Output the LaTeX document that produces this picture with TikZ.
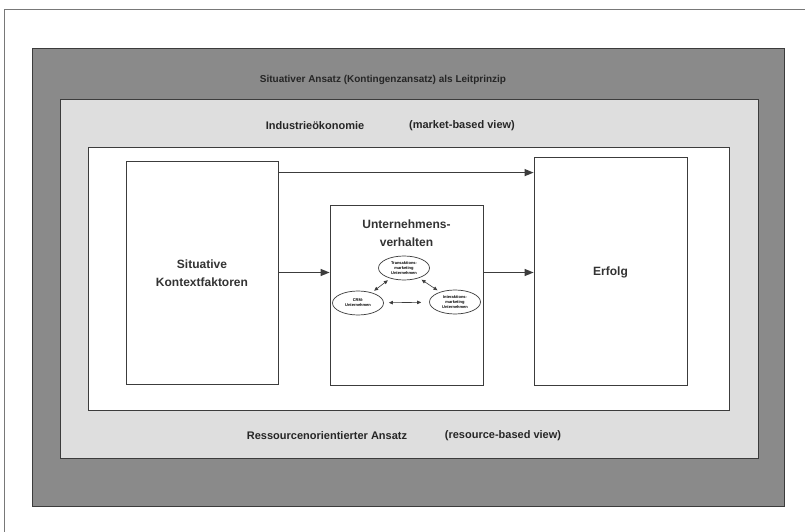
\documentclass[tikz,border=0pt]{standalone}
\usepackage{fontspec}
\setmainfont{Liberation Sans}
\usepackage{xcolor}
\usepackage{tikz}
\usetikzlibrary{calc,arrows.meta,shapes.geometric,positioning}
\definecolor{band}{RGB}{138, 138, 138}
\definecolor{field}{RGB}{222, 222, 222}
\definecolor{rule}{RGB}{60, 60, 60}
\definecolor{pageline}{RGB}{120, 120, 120}

\begin{document}
\begin{tikzpicture}[x=1pt, y=-1pt, >={Triangle[length=9pt,width=7pt]},
  box/.style={draw=rule, fill=white, line width=0.8pt, inner sep=0pt},
  lbl/.style={font=\bfseries\fontsize{11}{13}\selectfont, text=black!85},
  big/.style={font=\bfseries\fontsize{12}{18}\selectfont, text=black!80, align=center},
  firm/.style={ellipse, draw=rule, line width=0.7pt, fill=white, minimum width=51pt, minimum height=24pt, inner sep=0pt, align=center, font=\bfseries\fontsize{4}{4.8}\selectfont},
  flow/.style={->, draw=rule, line width=1.2pt},
  link/.style={{Triangle[length=4pt,width=3.5pt]}-{Triangle[length=4pt,width=3.5pt]}, draw=rule, line width=0.6pt, shorten >=3pt, shorten <=3pt}]
  \useasboundingbox (0,0) rectangle (805,532);

  % page frame
  \draw[pageline, line width=0.8pt] (4.5,532) -- (4.5,9) -- (805,9);

  % outer band: situative approach
  \draw[draw=rule, fill=band, line width=0.8pt] (32,48) rectangle (784,506);
  \node[lbl, font=\bfseries\fontsize{10}{12}\selectfont] (leit) at (383,80) {Situativer Ansatz (Kontingenzansatz) als Leitprinzip};

  % middle band: market- and resource-based view
  \draw[draw=rule, fill=field, line width=0.8pt] (60,99) rectangle (758,458);
  \node[lbl] (io) at (315,126) {Industrieökonomie};
  \node[lbl] (mbv) at (462,126) {(market-based view)};
  \node[lbl] (rba) at (327,436) {Ressourcenorientierter Ansatz};
  \node[lbl] (rbv) at (503,436) {(resource-based view)};

  % inner field
  \draw[draw=rule, fill=white, line width=0.8pt] (88,147) rectangle (729,410);

  % the three boxes
  \node[box, minimum width=152pt, minimum height=223pt] (kontext) at (202,272.5) {};
  \node[big] (kontextlbl) at (202,273) {Situative\\Kontextfaktoren};
  \node[box, minimum width=153pt, minimum height=180pt] (verhalten) at (406.5,295) {};
  \node[big, below=12pt of verhalten.north] (verhaltenlbl) {Unternehmens-\\verhalten};
  \node[box, minimum width=153pt, minimum height=228pt] (erfolg) at (610.5,271) {};
  \node[big] (erfolglbl) at (610.5,272) {Erfolg};

  % firm types inside the behaviour box
  \node[firm] (tm) at (404,268) {Transaktions-\\marketing\\Unternehmen};
  \node[firm] (crm) at (358,303) {CRM-\\Unternehmen};
  \node[firm] (im) at (455,302) {Interaktions-\\marketing\\Unternehmen};
  \draw[link] (crm) -- (tm);
  \draw[link] (tm) -- (im);
  \draw[link, shorten >=8pt, shorten <=5pt] (crm) -- (im);

  % arrows
  \draw[flow] ([yshift=-12pt]kontext.north east) -- ([yshift=-12pt]kontext.north east -| erfolg.west);
  \draw[flow] (kontext.east) -- (kontext.east -| verhalten.west);
  \draw[flow] (kontext.east -| verhalten.east) -- (kontext.east -| erfolg.west);
\end{tikzpicture}
\end{document}
